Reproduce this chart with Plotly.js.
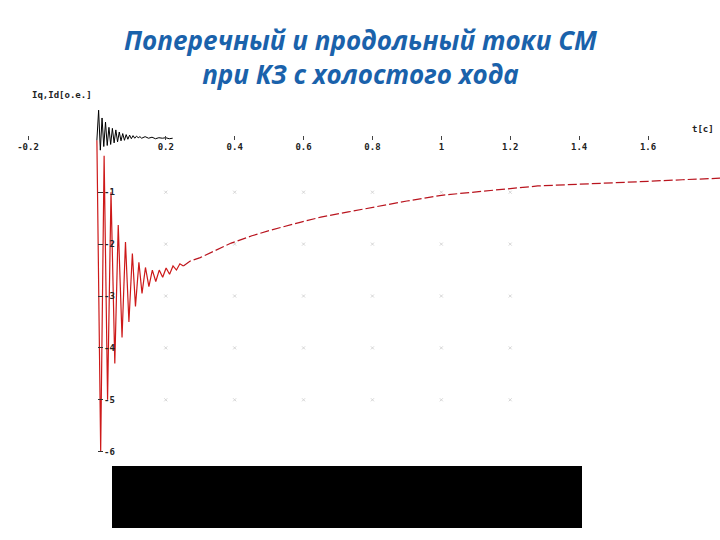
<!DOCTYPE html>
<html>
<head>
<meta charset="utf-8">
<script src="https://cdn.plot.ly/plotly-3.0.1.min.js"></script>
<style>html,body{margin:0;padding:0;background:#fff;}#chart{width:720px;height:540px;}</style>
</head>
<body>
<div id="chart"></div>
<script>
// ---- data ----
var titleText = "Поперечный и продольный токи СМ<br>при КЗ с холостого хода";
var yLabel = "Iq,Id[o.e.]";
var xLabel = "t[c]";

var xTickVals = [-0.2, 0.2, 0.4, 0.6, 0.8, 1.0, 1.2, 1.4, 1.6];
var xTickText = ["-0.2", "0.2", "0.4", "0.6", "0.8", "1", "1.2", "1.4", "1.6"];
var yTickVals = [-1, -2, -3, -4, -5, -6];
var yTickText = ["-1", "-2", "-3", "-4", "-5", "-6"];
var gridX = [0.2, 0.4, 0.6, 0.8, 1.0, 1.2];
var gridY = [-1, -2, -3, -4, -5];

// Iq (black) – transverse current
var tIq = [0, 0.005, 0.010, 0.015, 0.020, 0.025, 0.030, 0.035, 0.040, 0.045,
           0.050, 0.055, 0.060, 0.065, 0.070, 0.075, 0.080, 0.085, 0.090, 0.095,
           0.100, 0.105, 0.110, 0.115, 0.120, 0.125, 0.130, 0.140, 0.150, 0.160,
           0.170, 0.180, 0.190, 0.200, 0.210, 0.220];
var iq  = [0, 0.58, -0.19, 0.43, -0.12, 0.35, -0.10, 0.25, -0.08, 0.23,
           -0.05, 0.20, -0.03, 0.16, -0.01, 0.13, 0.00, 0.11, 0.02, 0.10,
           0.03, 0.09, 0.04, 0.08, 0.05, 0.07, 0.04, 0.07, 0.04, 0.06,
           0.03, 0.05, 0.04, 0.05, 0.03, 0.04];

// Id (red) – direct-axis current
var tId = [0, 0.011, 0.021, 0.031, 0.041, 0.052, 0.062, 0.073, 0.083, 0.093,
           0.103, 0.112, 0.122, 0.131, 0.141, 0.151, 0.161, 0.171, 0.181, 0.191,
           0.201, 0.211, 0.221, 0.231, 0.241, 0.251, 0.27, 0.30, 0.35, 0.39,
           0.45, 0.50, 0.59, 0.65, 0.73, 0.83, 0.90, 1.00, 1.10, 1.20,
           1.28, 1.40, 1.48, 1.60, 1.70, 1.81];
var id  = [0, -6.0, -0.3, -5.0, -1.0, -4.3, -1.63, -3.8, -1.96, -3.5,
           -2.18, -3.2, -2.35, -2.95, -2.45, -2.82, -2.5, -2.72, -2.5, -2.64,
           -2.46, -2.58, -2.42, -2.5, -2.38, -2.42, -2.33, -2.26, -2.10, -1.98,
           -1.84, -1.74, -1.58, -1.48, -1.38, -1.25, -1.17, -1.06, -0.99, -0.93,
           -0.88, -0.85, -0.82, -0.79, -0.76, -0.73];

// split of the Id curve into the oscillating part and the smooth tail
var splitIdx = 25;

// ---- build traces ----
var gx = [], gy = [];
gridY.forEach(function (yy) { gridX.forEach(function (xx) { gx.push(xx); gy.push(yy); }); });

var traces = [
  { x: gx, y: gy, type: "scatter", mode: "markers", hoverinfo: "skip",
    marker: { symbol: "x-thin", size: 3, line: { color: "#d4d4d4", width: 1 } } },
  { x: tId.slice(0, splitIdx + 1), y: id.slice(0, splitIdx + 1), type: "scatter", mode: "lines",
    line: { color: "rgb(205,25,25)", width: 1.2 } },
  { x: tId.slice(splitIdx), y: id.slice(splitIdx), type: "scatter", mode: "lines",
    line: { color: "rgb(185,20,30)", width: 1.2, dash: "9px,3px" } },
  { x: tIq, y: iq, type: "scatter", mode: "lines",
    line: { color: "#000000", width: 1 } }
];

var W = 720, H = 540;
var x0px = 28, x1px = 648;           // pixel positions of -0.2 and 1.6
var xScale = (x1px - x0px) / 1.8;
var xMin = -0.2 - x0px / xScale, xMax = -0.2 + (W - x0px) / xScale;
var y0px = 140.3, yScale = 51.9;     // pixel of y=0, pixels per unit
var yMax = y0px / yScale, yMin = -(H - y0px) / yScale;

var tickFont = { family: "DejaVu Sans Mono", size: 9, color: "#222", weight: "bold" };

var layout = {
  width: W, height: H,
  margin: { l: 0, r: 0, t: 0, b: 0, pad: 0 },
  paper_bgcolor: "#ffffff", plot_bgcolor: "#ffffff",
  showlegend: false,
  xaxis: {
    range: [xMin, xMax], anchor: "free", position: 1 - y0px / H,
    showgrid: false, zeroline: false, showline: false,
    ticks: "inside", ticklen: 4, tickwidth: 1, tickcolor: "#444",
    ticklabeloverflow: "allow",
    tickmode: "array", tickvals: xTickVals, ticktext: xTickText,
    tickfont: tickFont
  },
  yaxis: {
    range: [yMin, yMax], anchor: "free", position: (x0px + 0.2 * xScale) / W,
    showgrid: false, zeroline: false, showline: false,
    ticks: "inside", ticklen: 5, tickwidth: 1, tickcolor: "#333",
    ticklabelposition: "inside", ticklabeloverflow: "allow",
    tickmode: "array", tickvals: yTickVals, ticktext: yTickText,
    tickfont: tickFont
  },
  annotations: [
    { text: titleText, xref: "paper", yref: "paper", x: 0.5, y: 1 - 57 / H,
      xanchor: "center", yanchor: "middle", showarrow: false,
      font: { family: "Open Sans", size: 26, color: "#1a62ab", style: "italic", weight: 700 } },
    { text: yLabel, xref: "paper", yref: "paper", x: 30 / W, y: 1 - 95 / H,
      xanchor: "left", yanchor: "middle", showarrow: false,
      font: { family: "DejaVu Sans Mono", size: 9, color: "#222", weight: "bold" } },
    { text: xLabel, xref: "paper", yref: "paper", x: 716 / W, y: 1 - 129 / H,
      xanchor: "right", yanchor: "middle", showarrow: false,
      font: { family: "DejaVu Sans Mono", size: 9, color: "#222", weight: "bold" } }
  ],
  shapes: [
    { type: "rect", xref: "paper", yref: "paper",
      x0: 112 / W, x1: 582 / W, y0: 1 - 528 / H, y1: 1 - 466 / H,
      fillcolor: "#000000", line: { color: "#000000", width: 0 } }
  ]
};

Plotly.newPlot("chart", traces, layout, { displayModeBar: false, staticPlot: true });
</script>
</body>
</html>
